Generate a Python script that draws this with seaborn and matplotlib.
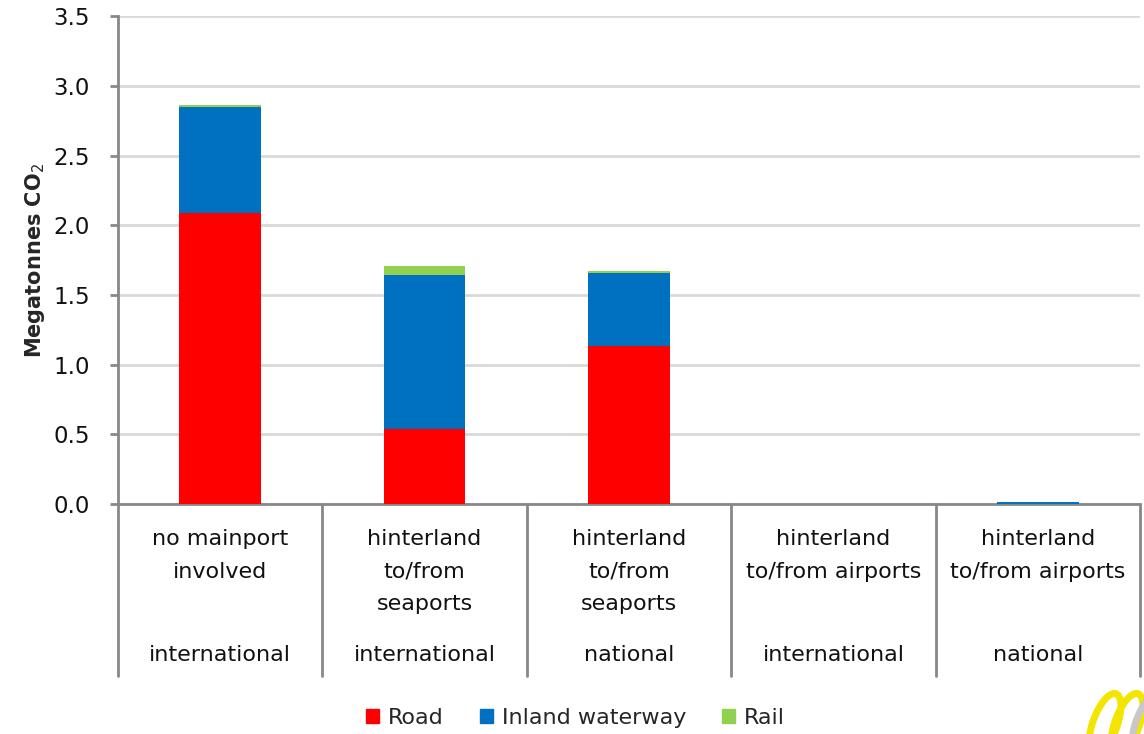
import matplotlib
matplotlib.use("Agg")
import matplotlib.pyplot as plt
from matplotlib.patches import Ellipse
from matplotlib.transforms import blended_transform_factory
import numpy as np
import pandas as pd
import seaborn as sns

# Route groups (upper label line), scope (lower label line) and emissions per mode
routes = ["no mainport\ninvolved",
          "hinterland\nto/from\nseaports",
          "hinterland\nto/from\nseaports",
          "hinterland\nto/from airports",
          "hinterland\nto/from airports"]
scopes = ["international", "international", "national", "international", "national"]
road = [2.085, 0.535, 1.135, 0.0, 0.0]
inland_waterway = [0.765, 1.110, 0.525, 0.0, 0.015]
rail = [0.015, 0.060, 0.012, 0.0, 0.0]

modes = ["Road", "Inland waterway", "Rail"]
colors = {"Road": "#FF0000", "Inland waterway": "#0070C0", "Rail": "#92D050"}
yticks = [0.0, 0.5, 1.0, 1.5, 2.0, 2.5, 3.0, 3.5]

sns.set_theme(style="white")
plt.rcParams["font.family"] = ["DejaVu Sans"]

keys = [f"g{i}" for i in range(len(routes))]
df = pd.DataFrame({"key": keys, "Road": road,
                   "Inland waterway": inland_waterway, "Rail": rail})
df["cum_road"] = df["Road"]
df["cum_water"] = df["cum_road"] + df["Inland waterway"]
df["cum_rail"] = df["cum_water"] + df["Rail"]

fig = plt.figure(figsize=(11.44, 7.34), dpi=100)
ax = fig.add_axes([0.1031, 0.3134, 0.8935, 0.6646])

# stacked bars: draw cumulative totals from the top layer down
for col, mode in [("cum_rail", "Rail"), ("cum_water", "Inland waterway"), ("cum_road", "Road")]:
    sns.barplot(data=df, x="key", y=col, order=keys, color=colors[mode],
                width=0.4, saturation=1, ax=ax, zorder=3, linewidth=0,
                edgecolor="none")

ax.set_xlim(-0.5, len(keys) - 0.5)
ax.set_ylim(0, 3.5)
ax.set_yticks(yticks)
ax.set_yticklabels([f"{v:.1f}" for v in yticks], fontsize=16.5, color="#111111")
ax.yaxis.grid(True, color="#D9D9D9", linewidth=2, zorder=0)
ax.set_axisbelow(True)
ax.tick_params(axis="y", length=6, width=2, color="#888888", direction="out", pad=14, left=True)
ax.set_xticks([])
ax.set_xlabel("")
ax.set_ylabel("Megatonnes CO$_2$", fontsize=15, fontweight="bold", labelpad=5)

for side in ["top", "right"]:
    ax.spines[side].set_visible(False)
for side in ["left", "bottom"]:
    ax.spines[side].set_color("#888888")
    ax.spines[side].set_linewidth(2)

# category separators running down through the label area
trans = blended_transform_factory(ax.transData, ax.transAxes)
for xb in np.arange(-0.5, len(keys), 1.0):
    ax.plot([xb, xb], [0, -0.352], transform=trans, color="#888888",
            linewidth=2, clip_on=False, zorder=4)

for i, (r, s) in enumerate(zip(routes, scopes)):
    ax.text(i, -0.052, r, transform=trans, ha="center", va="top",
            fontsize=16, color="#111111", linespacing=1.78)
    ax.text(i, -0.31, s, transform=trans, ha="center", va="center",
            fontsize=16, color="#111111")

handles = [plt.Rectangle((0, 0), 1, 1, color=colors[m]) for m in modes]
fig.legend(handles, modes, loc="center", bbox_to_anchor=(0.503, 0.022), ncol=3,
           frameon=False, fontsize=16, handlelength=0.6, handleheight=0.6,
           handletextpad=0.4, columnspacing=1.6)

# corner logo rings
for cx, col in [(1105, "#F2E600"), (1127, "#F2E600"), (1148, "#C8C8C8")]:
    e = Ellipse((cx / 1144, 10 / 734), 0.022, 0.085, angle=-12,
                transform=fig.transFigure, fill=False, edgecolor=col, linewidth=5)
    fig.add_artist(e)

fig.savefig("out.png", dpi=100)
